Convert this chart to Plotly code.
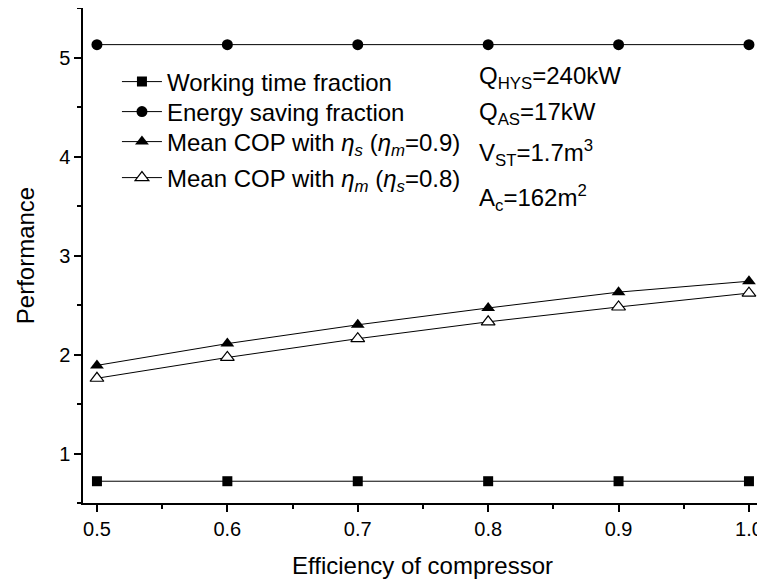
import plotly.graph_objects as go

efficiency = [0.5, 0.6, 0.7, 0.8, 0.9, 1.0]
working_time = [0.72, 0.72, 0.72, 0.72, 0.72, 0.72]
energy_saving = [5.13, 5.13, 5.13, 5.13, 5.13, 5.13]
cop_eta_s = [1.89, 2.11, 2.30, 2.47, 2.63, 2.74]
cop_eta_m = [1.76, 1.97, 2.16, 2.33, 2.48, 2.62]

x_ticks = [0.5, 0.6, 0.7, 0.8, 0.9, 1.0]
y_ticks = [1, 2, 3, 4, 5]

names = [
    "Working time fraction",
    "Energy saving fraction",
    "Mean COP with <i>η</i><sub><i>s</i></sub> (<i>η</i><sub><i>m</i></sub>=0.9)",
    "Mean COP with <i>η</i><sub><i>m</i></sub> (<i>η</i><sub><i>s</i></sub>=0.8)",
]
params = [
    "Q<sub>HYS</sub>=240kW",
    "Q<sub>AS</sub>=17kW",
    "V<sub>ST</sub>=1.7m<sup>3</sup>",
    "A<sub>c</sub>=162m<sup>2</sup>",
]

FONT = "Arial, 'Liberation Sans', sans-serif"
# the page body adds an 8px margin, so the figure is 8px smaller
W, H = 757, 572
L, R, T, B = 75, 3, 0, 77
PW, PH = W - L - R, H - T - B

legend_ids = ["legend", "legend2", "legend3", "legend4"]
legend_rows = [74, 104, 134, 170]     # pixel rows of the legend entries
param_rows = [69, 105, 145, 190]      # pixel rows of the parameter text block

fig = go.Figure()
series = [
    (working_time, dict(symbol="square", size=10, color="black")),
    (energy_saving, dict(symbol="circle", size=11, color="black")),
    (cop_eta_s, dict(symbol="triangle-up", size=12, color="black")),
    (cop_eta_m, dict(symbol="triangle-up", size=12, color="white",
                     line=dict(color="black", width=1.2))),
]
for (vals, mk), nm, lg in zip(series, names, legend_ids):
    fig.add_trace(go.Scatter(
        x=efficiency, y=vals, mode="lines+markers", name=nm,
        line=dict(color="black", width=1), marker=mk,
        cliponaxis=False, legend=lg,
    ))

for t, py in zip(params, param_rows):
    fig.add_annotation(
        x=(469 - L) / PW, y=1 - (py - T) / PH,
        xref="paper", yref="paper",
        xanchor="left", yanchor="middle", text=t, showarrow=False,
        font=dict(family=FONT, size=24, color="black"),
    )

axis_common = dict(
    showline=True, linecolor="black", linewidth=1.5, mirror=False,
    ticks="outside", tickcolor="black", tickwidth=1.5, ticklen=7,
    showgrid=False, zeroline=False,
    tickfont=dict(family=FONT, size=20, color="black"),
)

fig.update_xaxes(
    range=[0.4893, 1.010], tickvals=x_ticks, tickformat=".1f",
    minor=dict(dtick=0.05, tick0=0.5, ticks="outside", ticklen=4,
               tickcolor="black", tickwidth=1.5),
    title=dict(text="Efficiency of compressor", standoff=18,
               font=dict(family=FONT, size=24, color="black")),
    **axis_common,
)
fig.update_yaxes(
    range=[0.5, 5.5], tickvals=y_ticks,
    minor=dict(dtick=0.5, tick0=0.5, ticks="outside", ticklen=4,
               tickcolor="black", tickwidth=1.5),
    title=dict(text="Performance", standoff=18,
               font=dict(family=FONT, size=24, color="black")),
    **axis_common,
)

legends = {}
for lg, py in zip(legend_ids, legend_rows):
    legends[lg] = dict(
        x=0.05, y=1 - (py - T) / PH, xanchor="left", yanchor="middle",
        bgcolor="rgba(0,0,0,0)", borderwidth=0,
        font=dict(family=FONT, size=24, color="black"),
        itemwidth=40,
    )

fig.update_layout(
    width=W, height=H,
    margin=dict(l=L, r=R, t=T, b=B),
    paper_bgcolor="white", plot_bgcolor="white",
    font=dict(family=FONT, size=24, color="black"),
    showlegend=True,
    **legends,
)

fig.write_html("out.html")
